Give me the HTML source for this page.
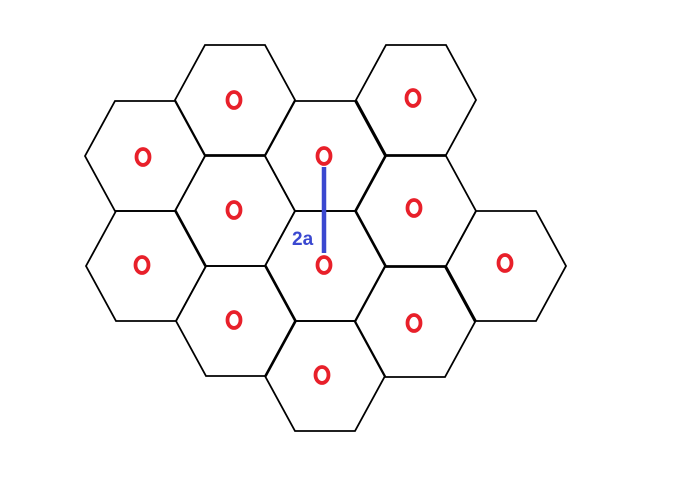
<!DOCTYPE html>
<html><head><meta charset="utf-8"><style>
html,body{margin:0;padding:0;background:#fff;}
svg{display:block;}
</style></head><body>
<svg id="chart" width="692" height="482" viewBox="0 0 692 482" xmlns="http://www.w3.org/2000/svg">
<rect width="692" height="482" fill="#fff"/>
<g id="hexes"></g>
<g id="marks"></g>
<line x1="324" y1="167" x2="324" y2="253" stroke="#3a48d0" stroke-width="4.5"/>
<text x="292" y="245" font-family="Liberation Sans, sans-serif" font-weight="bold" font-size="19" fill="#3a48d0">2a</text>
</svg>
<script>
const cellX = [235, 416, 145, 325, 416, 235, 146, 325, 506, 236, 415, 325];
const cellY = [100, 100, 156, 156, 211, 211, 266, 266, 266, 321, 322, 376];
const markX = [234, 413, 143, 324, 414, 234, 142, 324, 505, 234, 414, 322];
const markY = [100, 98, 157, 156, 208, 210, 265, 265, 263, 320, 323, 375];
const NS = 'http://www.w3.org/2000/svg';
const R = 60, H = 55;
const hexG = document.getElementById('hexes');
const markG = document.getElementById('marks');
cellX.forEach((cx, i) => {
  const cy = cellY[i];
  const pts = [[cx-R,cy],[cx-R/2,cy-H],[cx+R/2,cy-H],[cx+R,cy],[cx+R/2,cy+H],[cx-R/2,cy+H]];
  const p = document.createElementNS(NS, 'polygon');
  p.setAttribute('points', pts.map(q => q.join(',')).join(' '));
  p.setAttribute('fill', 'none');
  p.setAttribute('stroke', '#000');
  p.setAttribute('stroke-width', '1.8');
  
  
  hexG.appendChild(p);
});
markX.forEach((mx, i) => {
  const e = document.createElementNS(NS, 'ellipse');
  e.setAttribute('cx', mx);
  e.setAttribute('cy', markY[i]);
  e.setAttribute('rx', 6.5);
  e.setAttribute('ry', 8);
  e.setAttribute('fill', 'none');
  e.setAttribute('stroke', '#e8202a');
  e.setAttribute('stroke-width', '3.8');
  
  
  markG.appendChild(e);
});
</script>
</body></html>
